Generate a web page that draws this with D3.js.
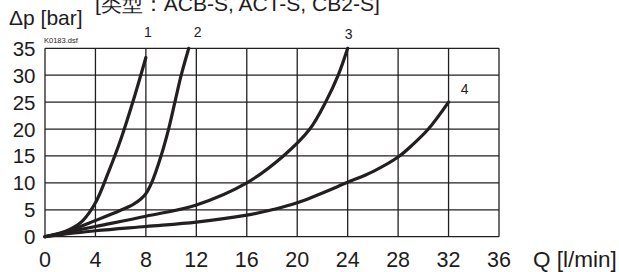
<!DOCTYPE html>
<html>
<head>
<meta charset="utf-8">
<script src="https://cdn.jsdelivr.net/npm/d3@7"></script>
<style>
  body { margin: 0; background: #fff; }
  text { font-family: "Liberation Sans", Arial, sans-serif; fill: #1e1b1c; }
</style>
</head>
<body>
<div id="chart"></div>
<script>
// pressure drop curves
var curve1 = [[0, 0], [1, 0.5], [2, 1.4], [3, 3], [4, 6.3], [5, 11.8], [6, 18], [7, 25.3], [8, 33.3]];
var curve2 = [[0, 0], [2, 1.2], [4, 3], [6, 4.9], [7, 6], [7.6, 7], [8, 8], [8.45, 10], [9.2, 15], [9.8, 20], [10.3, 25], [10.8, 30], [11.4, 35]];
var curve3 = [[0, 0], [4, 1.9], [8, 3.8], [12, 5.9], [16, 10], [18.9, 15], [21, 20], [22.25, 25], [23.25, 30], [24, 35]];
var curve4 = [[0, 0], [4, 1.1], [8, 1.9], [12, 2.7], [16, 4], [18, 5], [20, 6.3], [24, 10.1], [26, 12.1], [28, 14.8], [29.2, 17.2], [30.4, 20], [32, 25]];
var curveNames = ["1", "2", "3", "4"];
var xTicks = [0, 4, 8, 12, 16, 20, 24, 28, 32, 36];
var yTicks = [0, 5, 10, 15, 20, 25, 30, 35];

var svgWidth = 619, svgHeight = 272;

var svg = d3.select("#chart").append("svg")
    .attr("width", svgWidth)
    .attr("height", svgHeight);

var xScale = d3.scaleLinear().domain([0, 36]).range([45, 499]);
var yScale = d3.scaleLinear().domain([0, 35]).range([236.7, 48.3]);

// grid
var grid = svg.append("g");
grid.selectAll(".vx").data(xTicks).enter().append("line")
    .attr("x1", d => xScale(d)).attr("x2", d => xScale(d))
    .attr("y1", yScale(0)).attr("y2", yScale(35))
    .attr("stroke", "#231f20").attr("stroke-width", 1.3);
grid.selectAll(".hy").data(yTicks).enter().append("line")
    .attr("x1", xScale(0)).attr("x2", xScale(36))
    .attr("y1", d => yScale(d)).attr("y2", d => yScale(d))
    .attr("stroke", "#231f20").attr("stroke-width", 1.3);

// tick labels
svg.selectAll(".xl").data(xTicks).enter().append("text")
    .attr("x", d => xScale(d))
    .attr("y", 266.5)
    .attr("text-anchor", "middle")
    .style("font-size", "21.5px")
    .text(d => d);
svg.selectAll(".yl").data(yTicks).enter().append("text")
    .attr("x", 35.5)
    .attr("y", d => yScale(d) + 7.5)
    .attr("text-anchor", "end")
    .style("font-size", "20.5px")
    .text(d => d);

// axis titles
svg.append("text").attr("x", 9).attr("y", 24.5).style("font-size", "21px").text("Δp [bar]");
svg.append("text").attr("x", 95).attr("y", 11).style("font-size", "21px").text("[类型：ACB-S, ACT-S, CB2-S]");
svg.append("text").attr("x", 533).attr("y", 266.5).style("font-size", "22.5px").text("Q [l/min]");
svg.append("text").attr("x", 44).attr("y", 43).style("font-size", "7.5px").text("K0183.dsf");

// curves - catmull-rom keeps the elbows smooth
var line = d3.line()
    .x(d => xScale(d[0]))
    .y(d => yScale(d[1]))
    .curve(d3.curveCatmullRom.alpha(0.5));

var curves = [curve1, curve2, curve3, curve4];
svg.selectAll(".curve").data(curves).enter().append("path")
    .attr("d", line)
    .attr("fill", "none")
    .attr("stroke", "#231f20")
    .attr("stroke-width", 3.2)
    .attr("stroke-linecap", "round");

// curve numbers
var labelPos = [[8, 35, 2, -11.5], [11.4, 35, 9, -11.5], [24, 35, 1, -9.5], [32, 25, 16, -8]];
svg.selectAll(".cname").data(curveNames).enter().append("text")
    .attr("x", (d, i) => xScale(labelPos[i][0]) + labelPos[i][2])
    .attr("y", (d, i) => yScale(labelPos[i][1]) + labelPos[i][3])
    .attr("text-anchor", "middle")
    .style("font-size", "14px")
    .text(d => d);
</script>
</body>
</html>
